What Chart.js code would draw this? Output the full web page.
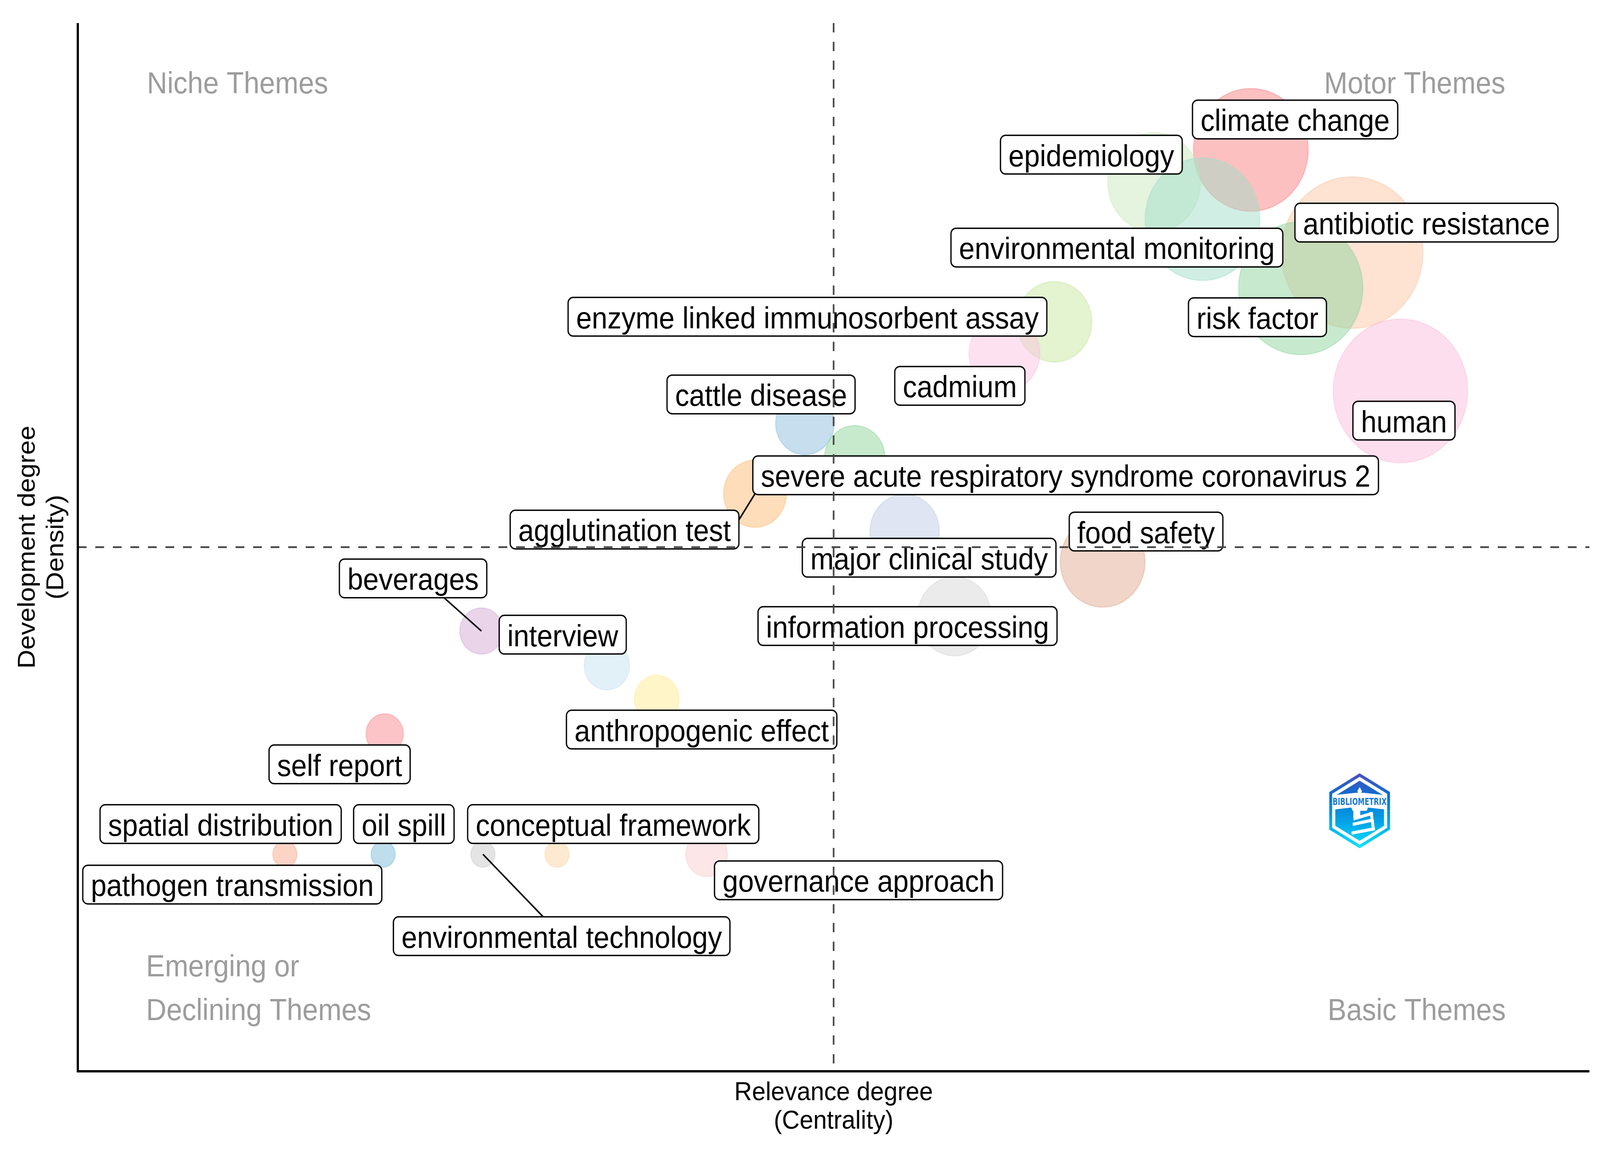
<!DOCTYPE html>
<html>
<head>
<meta charset="utf-8">
<title>Thematic map</title>
<script src="https://cdn.jsdelivr.net/npm/chart.js"></script>
<style>
  html, body { margin: 0; padding: 0; background: #fff; overflow: hidden; }
  canvas { display: block; position: fixed; left: 0; top: 0; }
</style>
</head>
<body>
<canvas id="themeMap" width="4381" height="2942"></canvas>
<script>
const themes = [
  'climate change', 'epidemiology', 'environmental monitoring', 'antibiotic resistance',
  'risk factor', 'human', 'enzyme linked immunosorbent assay', 'cadmium',
  'cattle disease', 'severe acute respiratory syndrome coronavirus 2', 'agglutination test',
  'major clinical study', 'food safety', 'information processing', 'beverages',
  'interview', 'anthropogenic effect', 'self report', 'spatial distribution',
  'oil spill', 'conceptual framework', 'pathogen transmission', 'governance approach',
  'environmental technology'
];

// relevance degree (centrality) and development degree (density)
const centrality = [77.6, 71.2, 74.4, 84.3, 80.9, 87.5, 64.6, 61.3, 48.1, 51.4, 44.8, 54.7,
                    67.8, 58.0, 26.7, 35.0, 38.3, 20.3, 13.7, 20.2, 31.7, 10.2, 41.6, 26.8];
const density    = [87.9, 84.8, 81.3, 78.1, 74.7, 64.9, 71.5, 68.5, 61.8, 58.5, 55.1, 51.5,
                    48.6, 43.4, 42.0, 38.7, 35.5, 32.2, 20.7, 20.7, 20.7, 17.8, 20.7, 20.7];
// cluster size (bubble radius, tenths of a pixel)
const clusterSize = [15.7, 12.7, 15.7, 19.4, 17.0, 18.4, 10.3, 9.7, 8.0, 8.3, 8.6, 9.5,
                     11.6, 10.1, 5.9, 6.2, 6.1, 5.1, 3.3, 3.3, 3.3, 3.0, 5.7, 3.3];

const centralityMid = 50;
const densityMid = 50;

const bubbleColors = [
  '251,129,131', '203,233,189', '161,221,201', '253,197,165', '143,213,159', '251,189,221',
  '201,231,161', '251,195,225', '141,189,219', '143,213,153', '253,187,117', '191,203,229',
  '225,171,145', '215,215,215', '211,169,213', '197,227,241', '255,235,145', '251,137,143',
  '249,169,141', '125,189,219', '253,213,161', '204,170,210', '251,205,209', '201,201,201'
];

// where the repelled labels ended up (data units)
const labelX = [80.53, 67.05, 68.74, 89.22, 78.04, 87.73, 48.27, 58.35, 45.20, 65.35, 36.17, 56.32,
                70.67, 54.89, 22.18, 32.08, 41.27, 17.32, 9.45, 21.57, 35.42, 10.22, 51.65, 32.01];
const labelY = [90.80, 87.44, 78.58, 80.96, 71.94, 62.07, 71.98, 65.39, 64.57, 56.86, 51.68, 48.99,
                51.49, 42.47, 47.02, 41.65, 32.60, 29.28, 23.58, 23.58, 23.58, 17.81, 18.22, 12.89];
// labels with a leader line -> point on the box where it ends (fraction of width / height)
const leaderLines = { 10: [1, 0.25], 14: [0.71, 1], 23: [0.445, 0] };

const quadrantLabels = [
  { lines: ['Niche Themes'], x: 4.57, y: 93.3, align: 'left' },
  { lines: ['Motor Themes'], x: 94.44, y: 93.3, align: 'right' },
  { lines: ['Emerging or', 'Declining Themes'], x: 4.52, y: 9.05, align: 'left' },
  { lines: ['Basic Themes'], x: 94.47, y: 4.88, align: 'right' }
];

const FONT = '"Liberation Sans", Arial, Helvetica, sans-serif';

function poly(c, pts) {
  c.beginPath();
  pts.forEach((p, k) => k ? c.lineTo(p[0], p[1]) : c.moveTo(p[0], p[1]));
  c.closePath();
  c.fill();
}

function hexPath(c, cx, cy, R) {
  c.beginPath();
  for (let k = 0; k < 6; k++) {
    const a = -Math.PI / 2 + k * Math.PI / 3;
    const px = cx + R * Math.cos(a), py = cy + R * Math.sin(a);
    k ? c.lineTo(px, py) : c.moveTo(px, py);
  }
  c.closePath();
}

function drawLogo(c, cx, cy) {
  c.save();
  c.translate(cx, cy);
  const z = (zx, zy) => [(zx - 370) / 3, (zy - 530) / 3];
  const g = c.createLinearGradient(0, -96, 0, 96);
  g.addColorStop(0, '#4d4fc0');
  g.addColorStop(0.3, '#0b6fcf');
  g.addColorStop(0.65, '#03a3e8');
  g.addColorStop(1, '#00e6ff');
  hexPath(c, 0, 0, 96); c.fillStyle = g; c.fill();
  hexPath(c, 0, 0, 87); c.fillStyle = '#fff'; c.fill();
  hexPath(c, 0, 0, 77); c.fillStyle = g; c.fill();

  c.save();
  hexPath(c, 0, 0, 87); c.clip();
  c.fillStyle = '#fff';
  poly(c, [z(160, 410), z(335, 392), z(405, 392), z(580, 410), z(580, 520), z(440, 505), z(300, 505), z(160, 520)]);
  c.restore();

  c.save();
  hexPath(c, 0, 0, 77); c.clip();
  c.fillStyle = '#fff';
  c.beginPath(); c.arc(0, -50, 6, 0, Math.PI * 2); c.fill();
  c.beginPath(); c.arc(0, -57, 2.5, 0, Math.PI * 2); c.fill();
  poly(c, [z(300, 500), z(440, 500), z(428, 530), z(312, 530)]);
  poly(c, [z(318, 525), z(375, 525), z(375, 580), z(318, 580)]);
  poly(c, [z(318, 580), z(470, 538), z(474, 562), z(320, 604)]);
  poly(c, [z(452, 540), z(478, 538), z(484, 606), z(462, 608)]);
  poly(c, [z(312, 622), z(462, 592), z(466, 616), z(314, 646)]);
  poly(c, [z(462, 600), z(486, 598), z(494, 670), z(470, 672)]);
  poly(c, [z(303, 690), z(495, 655), z(497, 680), z(305, 714)]);
  c.restore();

  c.fillStyle = '#1576d4';
  c.font = 'bold 24px "DejaVu Sans", sans-serif';
  c.textAlign = 'center';
  c.textBaseline = 'middle';
  c.fillText('BIBLIOMETRIX', 0, -21.5, 148);
  c.restore();
}

const mapPlugin = {
  id: 'thematicMap',
  beforeDatasetsDraw(chart) {
    const c = chart.ctx, xs = chart.scales.x, ys = chart.scales.y;
    c.save();
    c.fillStyle = '#9c9c9c';
    c.font = '77px ' + FONT;
    c.textBaseline = 'alphabetic';
    quadrantLabels.forEach(q => {
      c.textAlign = q.align;
      q.lines.forEach((t, k) => c.fillText(t, xs.getPixelForValue(q.x), ys.getPixelForValue(q.y) + k * 112));
    });
    c.restore();
  },
  afterDatasetsDraw(chart) {
    const c = chart.ctx, xs = chart.scales.x, ys = chart.scales.y, area = chart.chartArea;
    c.save();
    c.font = '77px ' + FONT;

    // label boxes
    const boxes = themes.map((t, i) => {
      const w = c.measureText(t).width + 44, h = 99;
      const cx = xs.getPixelForValue(labelX[i]), cy = ys.getPixelForValue(labelY[i]);
      return { x0: cx - w / 2, y0: cy - h / 2, w, h, cx, cy };
    });

    // leader segments go under the labels
    c.strokeStyle = '#000';
    c.lineWidth = 4;
    Object.keys(leaderLines).forEach(k => {
      const b = boxes[k], f = leaderLines[k];
      c.beginPath();
      c.moveTo(xs.getPixelForValue(centrality[k]), ys.getPixelForValue(density[k]));
      c.lineTo(b.x0 + f[0] * b.w, b.y0 + f[1] * b.h);
      c.stroke();
    });

    themes.forEach((t, i) => {
      const b = boxes[i];
      c.beginPath();
      c.roundRect(b.x0, b.y0, b.w, b.h, 14);
      c.fillStyle = '#fff';
      c.fill();
      c.lineWidth = 3.5;
      c.strokeStyle = '#000';
      c.stroke();
      c.fillStyle = '#000';
      c.textAlign = 'center';
      c.textBaseline = 'alphabetic';
      c.fillText(t, b.cx, b.cy + 29.5);
    });

    // mean lines
    c.save();
    c.setLineDash([24, 24]);
    c.strokeStyle = '#454545';
    c.lineWidth = 4.5;
    const xm = xs.getPixelForValue(centralityMid), ym = ys.getPixelForValue(densityMid);
    c.beginPath(); c.moveTo(xm, area.top); c.lineTo(xm, area.bottom); c.stroke();
    c.beginPath(); c.moveTo(area.left, ym); c.lineTo(area.right, ym); c.stroke();
    c.restore();

    // axis lines
    c.strokeStyle = '#000';
    c.lineWidth = 6;
    c.beginPath();
    c.moveTo(area.left, area.top);
    c.lineTo(area.left, area.bottom);
    c.lineTo(area.right, area.bottom);
    c.stroke();

    // axis titles
    c.fillStyle = '#000';
    c.font = '67px ' + FONT;
    c.textAlign = 'center';
    c.textBaseline = 'alphabetic';
    const xc = (area.left + area.right) / 2, yc = (area.top + area.bottom) / 2;
    c.fillText('Relevance degree', xc, area.bottom + 74);
    c.fillText('(Centrality)', xc, area.bottom + 147);
    [['Development degree', 95], ['(Density)', 173]].forEach(([t, bx]) => {
      c.save();
      c.translate(bx, yc);
      c.rotate(-Math.PI / 2);
      c.fillText(t, 0, 0);
      c.restore();
    });

    drawLogo(c, xs.getPixelForValue(84.8), ys.getPixelForValue(24.85));
    c.restore();
  }
};

// drawn at 4381 x 2942 and stretched over whatever the window really is
const canvas = document.getElementById('themeMap');
canvas.style.width = '100vw';
canvas.style.height = '100vh';

new Chart(canvas, {
  type: 'bubble',
  data: {
    datasets: [{
      label: 'clusters',
      data: themes.map((t, i) => ({ x: centrality[i], y: density[i], r: clusterSize[i] * 10 })),
      backgroundColor: bubbleColors.map(c => 'rgba(' + c + ',0.5)'),
      borderColor: bubbleColors.map(c => 'rgba(' + c + ',0.45)'),
      borderWidth: 3
    }]
  },
  options: {
    responsive: false,
    animation: false,
    devicePixelRatio: 1,
    events: [],
    clip: false,
    layout: { autoPadding: false, padding: { left: 213, right: 29, top: 59, bottom: 199 } },
    scales: {
      x: { type: 'linear', min: 0, max: 100, display: false },
      y: { type: 'linear', min: 0, max: 100, display: false }
    },
    plugins: {
      legend: { display: false },
      tooltip: { enabled: false }
    }
  },
  plugins: [mapPlugin]
});

canvas.style.width = '100vw';
canvas.style.height = '100vh';
</script>
</body>
</html>
